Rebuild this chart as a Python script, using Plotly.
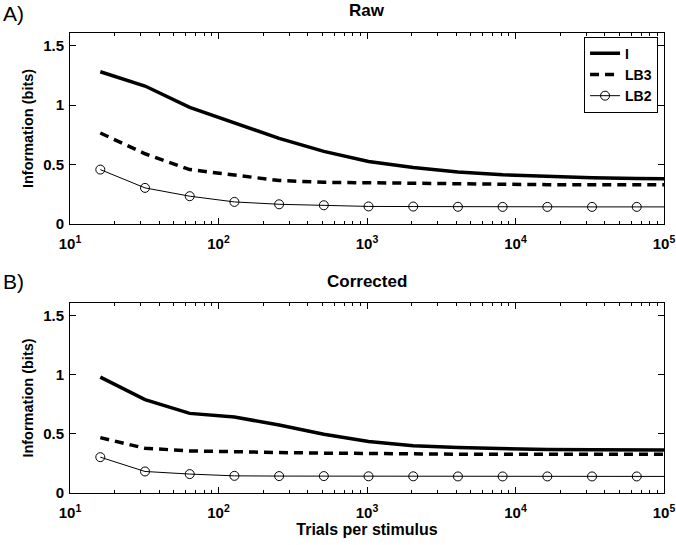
import plotly.graph_objects as go

trials = [16, 32, 64, 128, 256, 512, 1024, 2048, 4096, 8192, 16384, 32768, 65536, 131072]

raw_I = [1.28, 1.16, 0.98, 0.85, 0.72, 0.61, 0.525, 0.475, 0.437, 0.413, 0.398, 0.388, 0.382, 0.38]
raw_LB3 = [0.765, 0.59, 0.457, 0.41, 0.365, 0.35, 0.345, 0.338, 0.333, 0.331, 0.330, 0.330, 0.330, 0.330]
raw_LB2 = [0.457, 0.303, 0.233, 0.185, 0.165, 0.157, 0.147, 0.146, 0.144, 0.143, 0.143, 0.143, 0.143, 0.143]

cor_I = [0.98, 0.79, 0.673, 0.642, 0.575, 0.496, 0.435, 0.40, 0.384, 0.375, 0.368, 0.365, 0.364, 0.364]
cor_LB3 = [0.468, 0.378, 0.356, 0.347, 0.342, 0.337, 0.332, 0.33, 0.328, 0.327, 0.327, 0.327, 0.327, 0.327]
cor_LB2 = [0.303, 0.182, 0.16, 0.145, 0.143, 0.143, 0.141, 0.141, 0.14, 0.14, 0.14, 0.14, 0.14, 0.14]

marker_trials = trials[:-1]

xtick_vals = [10, 100, 1000, 10000, 100000]
xtick_text = ["10<sup>1</sup>", "10<sup>2</sup>", "10<sup>3</sup>", "10<sup>4</sup>", "10<sup>5</sup>"]
ytick_vals = [0, 0.5, 1, 1.5]
ytick_text = ["0", "0.5", "1", "1.5"]

FONT = "Liberation Sans, Arial, Helvetica, sans-serif"

fig = go.Figure()


def add_panel(I, LB3, LB2, xa, ya, show):
    fig.add_trace(go.Scatter(x=trials, y=I, mode="lines", name="I",
                             line=dict(color="black", width=3.5),
                             xaxis=xa, yaxis=ya, showlegend=show))
    fig.add_trace(go.Scatter(x=trials, y=LB3, mode="lines", name="LB3",
                             line=dict(color="black", width=3.5, dash="9px,6px"),
                             xaxis=xa, yaxis=ya, showlegend=show))
    fig.add_trace(go.Scatter(x=trials, y=LB2, mode="lines", name="LB2",
                             line=dict(color="black", width=1),
                             xaxis=xa, yaxis=ya, showlegend=False))
    fig.add_trace(go.Scatter(x=marker_trials, y=LB2[:-1], mode="markers", name="LB2",
                             marker=dict(symbol="circle-open", size=9, color="black",
                                         line=dict(width=1, color="black")),
                             xaxis=xa, yaxis=ya, showlegend=False))
    if show:
        fig.add_trace(go.Scatter(x=[None], y=[None], mode="lines+markers", name="LB2",
                                 line=dict(color="black", width=1),
                                 marker=dict(symbol="circle-open", size=9, color="black",
                                             line=dict(width=1, color="black")),
                                 xaxis=xa, yaxis=ya, showlegend=True))


add_panel(raw_I, raw_LB3, raw_LB2, "x", "y", True)
add_panel(cor_I, cor_LB3, cor_LB2, "x2", "y2", False)

minor_vals = [m * 10 ** k for k in range(1, 5) for m in range(2, 10)]

xcommon = dict(type="log", range=[1, 5], tickvals=xtick_vals, ticktext=xtick_text,
               ticks="inside", ticklen=6, tickcolor="black", tickwidth=1,
               showline=True, linecolor="black", linewidth=1, mirror="ticks",
               showgrid=False, zeroline=False, ticklabelstandoff=6,
               minor=dict(tickvals=minor_vals, ticks="inside", ticklen=3,
                          tickcolor="black", showgrid=False),
               tickfont=dict(family=FONT, size=15, color="black", weight="bold"))
ycommon = dict(range=[0, 1.606], tickvals=ytick_vals, ticktext=ytick_text,
               ticks="inside", ticklen=6, tickcolor="black", tickwidth=1,
               showline=True, linecolor="black", linewidth=1, mirror="ticks",
               showgrid=False, zeroline=False, ticklabelstandoff=2,
               tickfont=dict(family=FONT, size=15, color="black", weight="bold"),
               title=dict(text="Information (bits)", standoff=6,
                          font=dict(family=FONT, size=14.5, color="black", weight="bold")))

ph = 545 - 33 - 52
pw = 676 - 70 - 12

fig.update_layout(
    width=676, height=545,
    margin=dict(l=70, r=12, t=33, b=52, autoexpand=False),
    paper_bgcolor="white", plot_bgcolor="white",
    font=dict(family=FONT, color="black"),
    xaxis=dict(xcommon, domain=[0, 1], anchor="y"),
    yaxis=dict(ycommon, domain=[0.585, 1], anchor="x"),
    xaxis2=dict(xcommon, domain=[0, 1], anchor="y2",
                title=dict(text="Trials per stimulus", standoff=2,
                           font=dict(family=FONT, size=16, color="black", weight="bold"))),
    yaxis2=dict(ycommon, domain=[0, 0.413], anchor="x2"),
    legend=dict(x=0.99, y=0.992, xanchor="right", yanchor="top",
                bordercolor="black", borderwidth=1, bgcolor="white",
                font=dict(family=FONT, size=14, color="black", weight="bold"),
                tracegroupgap=0, itemwidth=30),
    annotations=[
        dict(text="Raw", x=0.5, y=1, xref="paper", yref="paper", yanchor="bottom",
             yshift=11, showarrow=False,
             font=dict(family=FONT, size=17, color="black", weight="bold")),
        dict(text="Corrected", x=0.5, y=0.413, xref="paper", yref="paper", yanchor="bottom",
             yshift=10, showarrow=False,
             font=dict(family=FONT, size=17, color="black", weight="bold")),
        dict(text="A)", x=(1 - 70) / pw, y=1 + (33 - 14) / ph, xref="paper", yref="paper",
             xanchor="left", yanchor="middle", showarrow=False,
             font=dict(family=FONT, size=21, color="black")),
        dict(text="B)", x=(1 - 70) / pw, y=1 - (281 - 33) / ph, xref="paper", yref="paper",
             xanchor="left", yanchor="middle", showarrow=False,
             font=dict(family=FONT, size=21, color="black")),
    ],
)

fig.write_html("out.html", config={"displayModeBar": False},
               post_script="document.body.style.margin='0';document.body.style.overflow='hidden';")
